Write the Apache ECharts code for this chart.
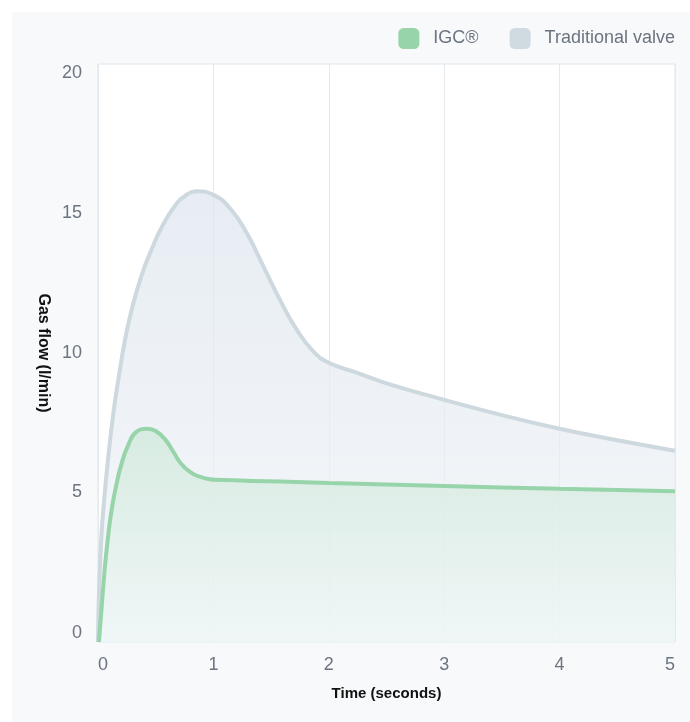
<!DOCTYPE html>
<html>
<head>
<meta charset="utf-8">
<script src="https://cdn.jsdelivr.net/npm/echarts@6/dist/echarts.min.js"></script>
<style>
  html, body { margin: 0; padding: 0; background: #ffffff; }
  #bg { position: absolute; left: 12px; top: 12px; width: 678px; height: 710px; background: #f8f9fb; }
  #chart { position: absolute; left: 0; top: 0; width: 690px; height: 722px; }
</style>
</head>
<body>
<div id="bg"></div>
<div id="chart"></div>
<script>
// Time (seconds) and gas flow (l/min)
const tradTime  = [0, 0.01, 0.03, 0.055, 0.089, 0.133, 0.176, 0.234, 0.292, 0.379, 0.466, 0.552, 0.668, 0.76, 0.85, 1.0, 1.145, 1.29, 1.434, 1.578, 1.723, 1.867, 2.0, 2.24, 2.5, 3.0, 3.5, 4.0, 4.5, 5.0];
const tradFlow  = [0, 1.9, 3.7, 5.0, 6.41, 7.91, 9.07, 10.45, 11.5, 12.7, 13.6, 14.35, 15.1, 15.45, 15.6, 15.47, 15.0, 14.14, 12.99, 11.83, 10.8, 10.05, 9.66, 9.32, 8.95, 8.38, 7.85, 7.38, 6.98, 6.62];
const igcTime   = [0.008, 0.032, 0.055, 0.084, 0.118, 0.162, 0.205, 0.263, 0.335, 0.43, 0.5, 0.58, 0.65, 0.72, 0.8, 0.88, 0.96, 1.015, 1.578, 2.0, 3.0, 4.0, 5.0];
const igcFlow   = [0, 1.22, 2.38, 3.53, 4.57, 5.49, 6.18, 6.82, 7.28, 7.38, 7.3, 7.02, 6.6, 6.17, 5.88, 5.72, 5.64, 5.61, 5.55, 5.5, 5.4, 5.3, 5.22];
const seriesNames = ['IGC®', 'Traditional valve'];
const xTicks = [0, 1, 2, 3, 4, 5];
const yTicks = [0, 5, 10, 15, 20];

const pair = (xs, ys) => xs.map((x, i) => [x, ys[i]]);
const labelColor = '#6b7480';
const font = '"Liberation Sans", Arial, sans-serif';

// y tick labels sit slightly inward in the reference (evenly spread inside the frame)
const yLabelRich = {
  y20: { color: labelColor, fontSize: 18, fontFamily: font, padding: [19, 0, 0, 0] },
  y15: { color: labelColor, fontSize: 18, fontFamily: font, padding: [10, 0, 0, 0] },
  y10: { color: labelColor, fontSize: 18, fontFamily: font, padding: [1, 0, 0, 0] },
  y5:  { color: labelColor, fontSize: 18, fontFamily: font, padding: [0, 0, 10, 0] },
  y0:  { color: labelColor, fontSize: 18, fontFamily: font, padding: [0, 0, 18, 0] }
};

const chart = echarts.init(document.getElementById('chart'), null, { renderer: 'canvas' });
chart.setOption({
  backgroundColor: 'transparent',
  animation: false,
  textStyle: { fontFamily: font },
  legend: {
    data: seriesNames,
    right: 10,
    top: 23,
    itemWidth: 21,
    itemHeight: 21,
    itemGap: 31,
    icon: 'roundRect',
    textStyle: { color: labelColor, fontSize: 18, fontFamily: font, padding: [3, 0, 0, 9] }
  },
  grid: {
    left: 98, right: 15, top: 64, bottom: 80,
    show: true,
    backgroundColor: '#ffffff',
    borderColor: '#dfe6ec',
    borderWidth: 1
  },
  xAxis: {
    type: 'value',
    min: xTicks[0],
    max: xTicks[xTicks.length - 1],
    interval: 1,
    name: 'Time (seconds)',
    nameLocation: 'middle',
    nameGap: 44,
    nameTextStyle: { color: '#111111', fontWeight: 'bold', fontSize: 15, fontFamily: font },
    axisLine: { show: false },
    axisTick: { show: false },
    axisLabel: {
      color: labelColor, fontSize: 18, margin: 14, fontFamily: font,
      alignMinLabel: 'left', alignMaxLabel: 'right'
    },
    splitLine: { show: true, lineStyle: { color: '#e4e9ee', width: 1 } }
  },
  yAxis: {
    type: 'value',
    min: yTicks[0],
    max: yTicks[yTicks.length - 1],
    interval: 5,
    name: 'Gas flow (l/min)',
    nameLocation: 'middle',
    nameRotate: -90,
    nameGap: 46,
    nameTextStyle: { color: '#111111', fontWeight: 'bold', fontSize: 16, fontFamily: font },
    axisLine: { show: false },
    axisTick: { show: false },
    axisLabel: {
      color: labelColor, fontSize: 18, margin: 16, fontFamily: font,
      formatter: v => '{y' + v + '|' + v + '}',
      rich: yLabelRich
    },
    splitLine: { show: false }
  },
  series: [
    {
      name: seriesNames[1],
      type: 'line',
      data: pair(tradTime, tradFlow),
      smooth: 0.5,
      showSymbol: false,
      color: '#d0dbe1',
      lineStyle: { color: '#cdd8df', width: 4 },
      areaStyle: {
        color: new echarts.graphic.LinearGradient(0, 0, 0, 1, [
          { offset: 0, color: '#dde5ee' },
          { offset: 1, color: '#f1f5f8' }
        ])
      },
      z: 2
    },
    {
      name: seriesNames[0],
      type: 'line',
      data: pair(igcTime, igcFlow),
      smooth: 0.5,
      showSymbol: false,
      color: '#98d4aa',
      lineStyle: { color: '#98d4aa', width: 4 },
      areaStyle: {
        color: new echarts.graphic.LinearGradient(0, 0, 0, 1, [
          { offset: 0, color: '#cde8d8' },
          { offset: 1, color: '#eef6f6' }
        ])
      },
      z: 3
    }
  ]
});
</script>
</body>
</html>
